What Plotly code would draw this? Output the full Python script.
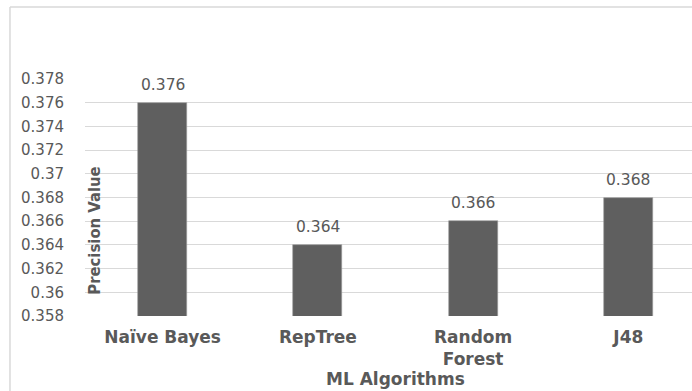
import plotly.graph_objects as go

# Precision of each ML algorithm
algorithms = ["Naïve Bayes", "RepTree", "Random<br>Forest", "J48"]
precision = [0.376, 0.364, 0.366, 0.368]

# Y-axis ticks (labels written the way the spreadsheet trims trailing zeros)
y_ticks = [0.358, 0.360, 0.362, 0.364, 0.366, 0.368, 0.370, 0.372, 0.374, 0.376, 0.378]
y_tick_text = ["0.358", "0.36", "0.362", "0.364", "0.366", "0.368", "0.37",
               "0.372", "0.374", "0.376", "0.378"]

TEXT = "#595959"
GRID = "#d9d9d9"
BAR = "#5f5f5f"
positions = list(range(len(algorithms)))

fig = go.Figure(
    go.Bar(
        x=positions,
        y=precision,
        width=0.316,
        marker=dict(color=BAR, line=dict(color="#9a9a9a", width=0.6)),
        hoverinfo="skip",
    )
)

# value labels above each bar
value_labels = [
    dict(x=p, y=v, xref="x", yref="y", text=f"{v:.3f}", showarrow=False,
         xanchor="center", yanchor="bottom", yshift=7,
         font=dict(family="DejaVu Sans", size=15.5, color=TEXT))
    for p, v in zip(positions, precision)
]

fig.update_layout(
    width=692,
    height=391,
    margin=dict(l=85, r=0, t=79, b=75),
    paper_bgcolor="white",
    plot_bgcolor="white",
    showlegend=False,
    bargap=0,
    xaxis=dict(
        range=[-0.5, 3.41],
        tickvals=positions,
        ticktext=algorithms,
        tickfont=dict(family="DejaVu Sans", size=17, color=TEXT, weight="bold"),
        showgrid=False,
        zeroline=False,
        showline=False,
        ticks="",
        ticklabelstandoff=9,
    ),
    yaxis=dict(
        range=[0.358, 0.378],
        tickvals=y_ticks,
        ticktext=y_tick_text,
        tickfont=dict(family="DejaVu Sans", size=15, color=TEXT),
        showgrid=True,
        gridcolor=GRID,
        gridwidth=1.2,
        zeroline=False,
        showline=False,
        ticks="",
        ticklabelstandoff=20,
    ),
    shapes=[
        # chart frame (left and top edges)
        dict(type="line", xref="paper", yref="paper",
             x0=-0.1236, x1=-0.1236, y0=-0.4, y1=1.3038,
             line=dict(color=GRID, width=1.5)),
        dict(type="line", xref="paper", yref="paper",
             x0=-0.1236, x1=1.05, y0=1.3038, y1=1.3038,
             line=dict(color=GRID, width=1.5)),
    ],
    annotations=value_labels + [
        dict(text="Precision Value", xref="paper", yref="paper",
             x=0.0165, y=0.36, textangle=-90, showarrow=False,
             xanchor="center", yanchor="middle",
             font=dict(family="DejaVu Sans Condensed", size=16.5,
                       color=TEXT, weight="bold")),
        dict(text="ML Algorithms", xref="paper", yref="paper",
             x=0.511, y=-0.265, showarrow=False,
             xanchor="center", yanchor="middle",
             font=dict(family="DejaVu Sans", size=17, color=TEXT, weight="bold")),
    ],
)

fig.write_html("out.html")
